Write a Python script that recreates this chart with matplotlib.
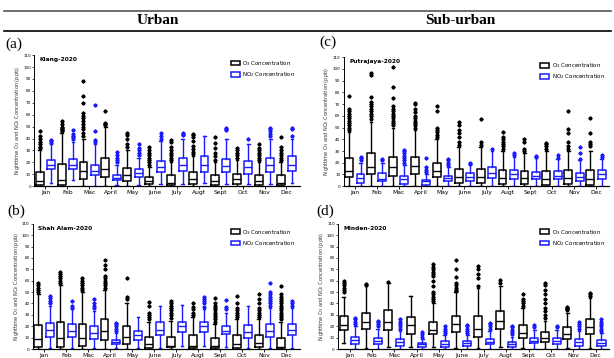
import matplotlib
matplotlib.use("Agg")
import matplotlib.pyplot as plt
from matplotlib.lines import Line2D
from matplotlib.patches import Rectangle

months = ["Jan", "Feb", "Mac", "April", "May", "June", "July", "Augt", "Sept", "Oct", "Nov", "Dec"]

# (whisker low, q1, median, q3, whisker high) per month
klang_o3 = [(0, 1, 4, 12, 30), (0, 1, 5, 19, 45), (0, 6, 13, 20, 40), (0, 8, 14, 24, 50),
            (0, 4, 9, 15, 30), (0, 2, 4, 8, 16), (0, 1, 3, 9, 20), (0, 2, 6, 12, 25),
            (0, 1, 4, 9, 20), (0, 2, 6, 10, 22), (0, 1, 4, 9, 20), (0, 1, 3, 9, 20)]
klang_o3_out = [[32, 33, 35, 37, 40, 42, 46], [46, 47, 48, 49, 50, 52, 55],
                [42, 45, 48, 50, 52, 55, 57, 59, 61, 70, 76, 88], [51, 52, 53, 63],
                [33, 35, 40, 43, 45], [18, 20, 22, 24, 26, 28, 30, 33],
                [22, 24, 26, 28, 30, 33, 37, 39], [27, 29, 31, 34, 38, 41, 43, 44],
                [22, 25, 28, 32, 36, 41], [24, 26, 28, 30, 32],
                [22, 24, 26, 28, 30, 32, 35], [22, 24, 26, 28, 30, 33, 41]]
klang_no2 = [(3, 14, 18, 22, 35), (5, 14, 18, 23, 37), (0, 9, 13, 18, 35), (1, 5, 7, 9, 18),
             (1, 8, 11, 14, 24), (2, 12, 16, 21, 38), (2, 13, 18, 24, 40), (3, 12, 18, 25, 42),
             (2, 12, 17, 23, 40), (2, 10, 16, 21, 35), (2, 12, 18, 24, 40), (3, 13, 18, 25, 40)]
klang_no2_out = [[36, 38, 39], [40, 41, 42, 44, 47], [37, 39, 46, 68], [20, 22, 24, 26, 29],
                 [26, 28, 30, 32, 35], [40, 42, 45], [43, 44, 45], [],
                 [47, 48, 49], [40], [42, 44, 46, 48, 49], [42, 48, 49]]

shah_o3 = [(0, 2, 9, 21, 48), (0, 2, 10, 24, 56), (0, 3, 10, 22, 50), (0, 8, 16, 26, 52),
           (0, 4, 11, 20, 40), (0, 1, 4, 11, 24), (0, 2, 3, 11, 25), (0, 1, 3, 12, 28),
           (0, 1, 3, 10, 22), (0, 1, 4, 12, 26), (0, 2, 5, 12, 26), (0, 1, 2, 10, 24)]
shah_o3_out = [[50, 52, 54, 56, 58], [58, 60, 62, 64, 66, 68], [52, 54, 56, 58, 60, 62],
               [54, 56, 58, 60, 62, 64, 70, 74, 78], [44, 46, 62], [26, 28, 30, 32, 38, 41],
               [27, 30, 32, 34, 36, 38, 40, 42], [30, 32, 35, 37, 40],
               [24, 26, 28, 30, 32, 34, 36, 38, 40, 45], [28, 30, 32, 34, 36, 40, 47],
               [28, 30, 32, 34, 36, 40, 44, 48],
               [26, 28, 30, 32, 34, 36, 38, 40, 42, 44, 46, 48, 55]]
shah_no2 = [(1, 11, 17, 23, 38), (1, 11, 16, 22, 35), (1, 9, 14, 20, 33), (1, 4, 6, 8, 14),
            (1, 8, 12, 16, 28), (1, 12, 17, 24, 38), (3, 15, 20, 24, 39), (3, 15, 20, 24, 35),
            (2, 13, 16, 20, 32), (1, 10, 15, 21, 38), (1, 11, 16, 22, 36), (1, 12, 17, 22, 36)]
shah_no2_out = [[40, 42, 45, 47], [36, 38, 42], [36, 38, 40, 44], [16, 18, 20, 22, 23],
                [], [], [], [37, 40, 42, 44, 46], [35, 37, 43], [],
                [38, 40, 42, 44, 46, 48, 50, 58], [38, 40, 42]]

putra_o3 = [(0, 8, 13, 24, 46), (0, 10, 16, 28, 55), (0, 9, 16, 25, 50), (0, 10, 17, 25, 48),
            (0, 8, 13, 20, 40), (0, 3, 8, 15, 33), (0, 3, 8, 15, 33), (0, 2, 7, 14, 30),
            (0, 2, 7, 13, 28), (0, 1, 6, 13, 30), (0, 2, 7, 14, 30), (0, 1, 6, 14, 30)]
putra_o3_out = [[48, 50, 52, 54, 56, 58, 60, 62, 64, 66, 77],
                [57, 60, 62, 64, 66, 68, 70, 72, 76, 95, 97],
                [52, 54, 56, 58, 60, 62, 64, 66, 68, 75, 85, 102],
                [50, 52, 54, 56, 58, 60, 63, 66, 70, 71], [42, 44, 46, 48, 50, 64, 68],
                [35, 38, 42, 45, 48, 52, 55], [35, 38, 57], [32, 34, 36, 38, 40, 42, 46],
                [30, 32, 38, 40], [32, 34, 36, 37], [32, 34, 38, 45, 49, 64],
                [34, 36, 38, 45, 58]]
putra_no2 = [(0, 3, 7, 10, 20), (0, 4, 6, 11, 20), (0, 2, 6, 9, 18), (0, 1, 4, 5, 10),
             (0, 4, 7, 9, 16), (0, 4, 8, 11, 18), (0, 7, 11, 16, 30), (0, 6, 10, 14, 25),
             (0, 6, 9, 12, 24), (0, 6, 9, 13, 23), (0, 4, 8, 11, 22), (0, 6, 10, 14, 23)]
putra_no2_out = [[22, 24, 25], [22, 23], [20, 22, 24, 26, 28, 30, 31], [12, 14, 16, 24],
                 [18, 20, 22, 23], [19, 20], [32], [27, 28], [25, 26], [24, 27],
                 [23, 28, 33], [25, 27]]

minden_o3 = [(5, 17, 21, 29, 46), (1, 18, 24, 32, 55), (2, 17, 24, 34, 58), (2, 13, 21, 28, 47),
             (2, 13, 17, 24, 40), (1, 15, 22, 29, 50), (1, 11, 18, 29, 54), (2, 18, 25, 33, 55),
             (1, 10, 14, 21, 36), (0, 6, 10, 15, 25), (1, 9, 13, 19, 32), (1, 13, 19, 26, 45)]
minden_o3_out = [[50, 52, 54, 56, 58, 60], [56, 57], [59], [],
                 [42, 44, 46, 48, 50, 55, 60, 64, 66, 68, 70, 72, 75],
                 [51, 52, 54, 56, 58, 63, 70, 78], [55, 62, 66, 70, 73], [58, 61],
                 [38, 40, 42, 44, 48], [27, 30, 33, 36, 40, 44, 48, 52, 56, 58],
                 [34, 35, 36, 37], [47, 48, 49]]
minden_no2 = [(0, 4, 8, 11, 20), (0, 4, 7, 10, 18), (0, 3, 6, 9, 16), (0, 2, 4, 5, 9),
              (0, 2, 4, 7, 12), (0, 3, 5, 7, 12), (0, 4, 6, 9, 16), (0, 2, 4, 6, 11),
              (0, 5, 7, 10, 17), (0, 4, 7, 10, 17), (0, 3, 6, 9, 16), (0, 3, 5, 8, 14)]
minden_no2_out = [[22, 24, 26, 27], [20, 22, 24, 25], [18, 20, 22, 24, 26], [11, 13, 15],
                  [14, 16, 18, 20], [14, 16, 18, 20, 21], [18, 20, 22, 23],
                  [13, 15, 17, 19, 20], [19, 21], [19, 20], [18, 20, 22, 24],
                  [16, 18, 20, 22, 24, 26]]

yticks = list(range(0, 111, 10))


def stats(five, out):
    res = []
    for (lo, q1, med, q3, hi), fl in zip(five, out):
        res.append({"whislo": lo, "q1": q1, "med": med, "q3": q3, "whishi": hi, "fliers": fl})
    return res


def draw_panel(ax, o3, o3_out, no2, no2_out, site, ylab_color):
    pos = list(range(len(months)))
    for data, out, col, off in [(o3, o3_out, "black", -0.26), (no2, no2_out, "#1a1aff", 0.26)]:
        ax.bxp(stats(data, out), positions=[p + off for p in pos], widths=0.36,
               showfliers=True, patch_artist=False, manage_ticks=False,
               boxprops=dict(color=col, lw=1.1),
               medianprops=dict(color=col, lw=1.0),
               whiskerprops=dict(color=col, lw=1.0),
               capprops=dict(color=col, lw=1.0),
               capwidths=0.12,
               flierprops=dict(marker="P", markersize=2.1, markerfacecolor=col,
                               markeredgecolor=col, lw=0))
    ax.set_xlim(-0.5, 11.6)
    ax.set_ylim(0, 110)
    ax.set_yticks(yticks)
    ax.set_yticklabels([str(v) for v in yticks], fontsize=3)
    ax.set_xticks(pos)
    ax.set_xticklabels(months, fontsize=4.3)
    ax.tick_params(axis="y", length=1.5, width=0.5, pad=1)
    ax.tick_params(axis="x", length=2, width=0.6, pad=1)
    for s in ["top", "right"]:
        ax.spines[s].set_visible(False)
    ax.spines["left"].set_linewidth(0.7)
    ax.spines["bottom"].set_linewidth(0.9)
    ax.set_ylabel("Nighttime O$_3$ and NO$_2$ Concentration (ppb)", fontsize=3.6,
                  color=ylab_color, labelpad=1)
    ax.text(0.02, 0.985, site, transform=ax.transAxes, fontsize=4.2, fontweight="bold",
            va="top", ha="left")
    handles = [Rectangle((0, 0), 1, 1, fc="white", ec="black", lw=1.1),
               Rectangle((0, 0), 1, 1, fc="white", ec="#1a1aff", lw=1.1)]
    ax.legend(handles, ["O$_3$ Concentration", "NO$_2$ Concentration"],
              loc="upper right", bbox_to_anchor=(1.0, 1.0), fontsize=4, frameon=False,
              handlelength=1.6, handleheight=0.9, handletextpad=0.5, labelspacing=0.4,
              borderpad=0.2)


fig = plt.figure(figsize=(6.14, 3.58), dpi=100)

ax_a = fig.add_axes([0.056, 0.480, 0.432, 0.366])
ax_c = fig.add_axes([0.560, 0.480, 0.432, 0.360])
ax_b = fig.add_axes([0.054, 0.025, 0.434, 0.350])
ax_d = fig.add_axes([0.551, 0.025, 0.441, 0.350])

draw_panel(ax_a, klang_o3, klang_o3_out, klang_no2, klang_no2_out, "Klang-2020", "#3a3020")
draw_panel(ax_c, putra_o3, putra_o3_out, putra_no2, putra_no2_out, "Putrajaya-2020", "#3a3020")
draw_panel(ax_b, shah_o3, shah_o3_out, shah_no2, shah_no2_out, "Shah Alam-2020", "#3a3020")
draw_panel(ax_d, minden_o3, minden_o3_out, minden_no2, minden_no2_out, "Minden-2020", "#3a3020")

# header rules and column titles
fig.add_artist(Line2D([0.007, 0.995], [1 - 11 / 358, 1 - 11 / 358], color="#555555", lw=1.2))
fig.add_artist(Line2D([0.007, 0.995], [1 - 31 / 358, 1 - 31 / 358], color="black", lw=1.2))
fig.text(0.257, 1 - 21 / 358, "Urban", fontsize=11, fontweight="bold",
         family="Liberation Serif", ha="center", va="center")
fig.text(0.75, 1 - 21 / 358, "Sub-urban", fontsize=11, fontweight="bold",
         family="Liberation Serif", ha="center", va="center")

for x, y, lab in [(0.008, 1 - 44 / 358, "(a)"), (0.520, 1 - 42 / 358, "(c)"),
                  (0.012, 1 - 211 / 358, "(b)"), (0.515, 1 - 211 / 358, "(d)")]:
    fig.text(x, y, lab, fontsize=11, family="Liberation Serif", ha="left", va="center")

fig.savefig("out.png", dpi=100)
